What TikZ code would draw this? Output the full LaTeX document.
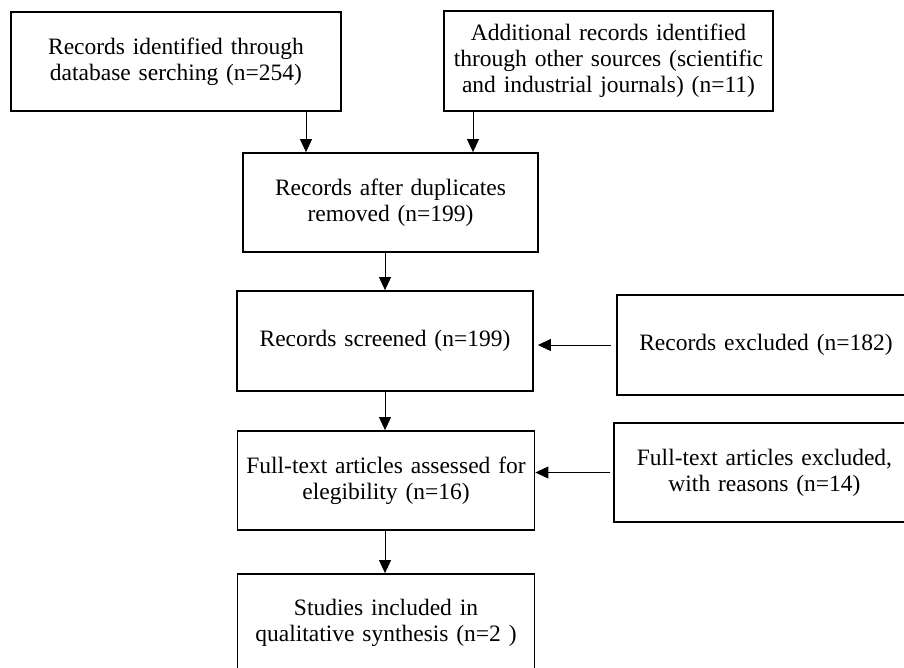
\documentclass[tikz,border=0pt]{standalone}
\usepackage{fontspec}
\setmainfont{Liberation Serif}
\usetikzlibrary{arrows.meta}

\begin{document}
\begin{tikzpicture}[x=1pt, y=-1pt,
    box/.style={draw, rectangle, line width=1.8pt, align=center,
                font=\fontsize{23.5}{26}\selectfont, inner sep=0pt},
    arr/.style={line width=0.9pt, -{Triangle[length=13pt,width=12pt]}}]

    \useasboundingbox (0,0) rectangle (904,667);
    \clip (0,0) rectangle (904,667);
    \fill[white] (0,0) rectangle (904,667);

    \node [box, minimum width=330pt, minimum height=99pt, text width=310pt] (ident) at (176,61.5)
        {Records identified through\\database serching (n=254)};
    \node [box, minimum width=329pt, minimum height=100pt, text width=315pt] (other) at (608.5,61)
        {Additional records identified\\through other sources (scientific\\and industrial journals) (n=11)};
    \node [box, minimum width=295pt, minimum height=99pt, text width=280pt] (dupl) at (390.5,202.5)
        {Records after duplicates\\removed (n=199)};
    \node [box, minimum width=296pt, minimum height=100pt, text width=285pt] (screen) at (385,341)
        {Records screened (n=199)};
    \node [box, minimum width=298pt, minimum height=100pt, text width=285pt] (excl) at (766,345)
        {Records excluded (n=182)};
    \node [box, minimum width=297pt, minimum height=99pt, text width=292pt] (full) at (386,480.5)
        {Full-text articles assessed for\\elegibility (n=16)};
    \node [box, minimum width=301pt, minimum height=99pt, text width=285pt] (fullex) at (764.5,472.5)
        {Full-text articles excluded,\\with reasons (n=14)};
    \node [box, minimum width=297pt, minimum height=98pt, text width=285pt] (incl) at (386,623)
        {Studies included in\\qualitative synthesis (n=2 )};

    \draw[arr] ([xshift=130pt]ident.south) -- ([xshift=130pt]ident.south |- dupl.north);
    \draw[arr] ([xshift=-135.5pt]other.south) -- ([xshift=-135.5pt]other.south |- dupl.north);
    \draw[arr] (screen.north |- dupl.south) -- (screen.north);
    \draw[arr] (screen.south) -- (screen.south |- full.north);
    \draw[arr] (screen.south |- full.south) -- (screen.south |- incl.north);
    \draw[arr, shorten <=5pt, shorten >=4pt] (excl.west) -- (excl.west -| screen.east);
    \draw[arr, shorten <=3pt] (fullex.west) -- (fullex.west -| full.east);
\end{tikzpicture}
\end{document}
